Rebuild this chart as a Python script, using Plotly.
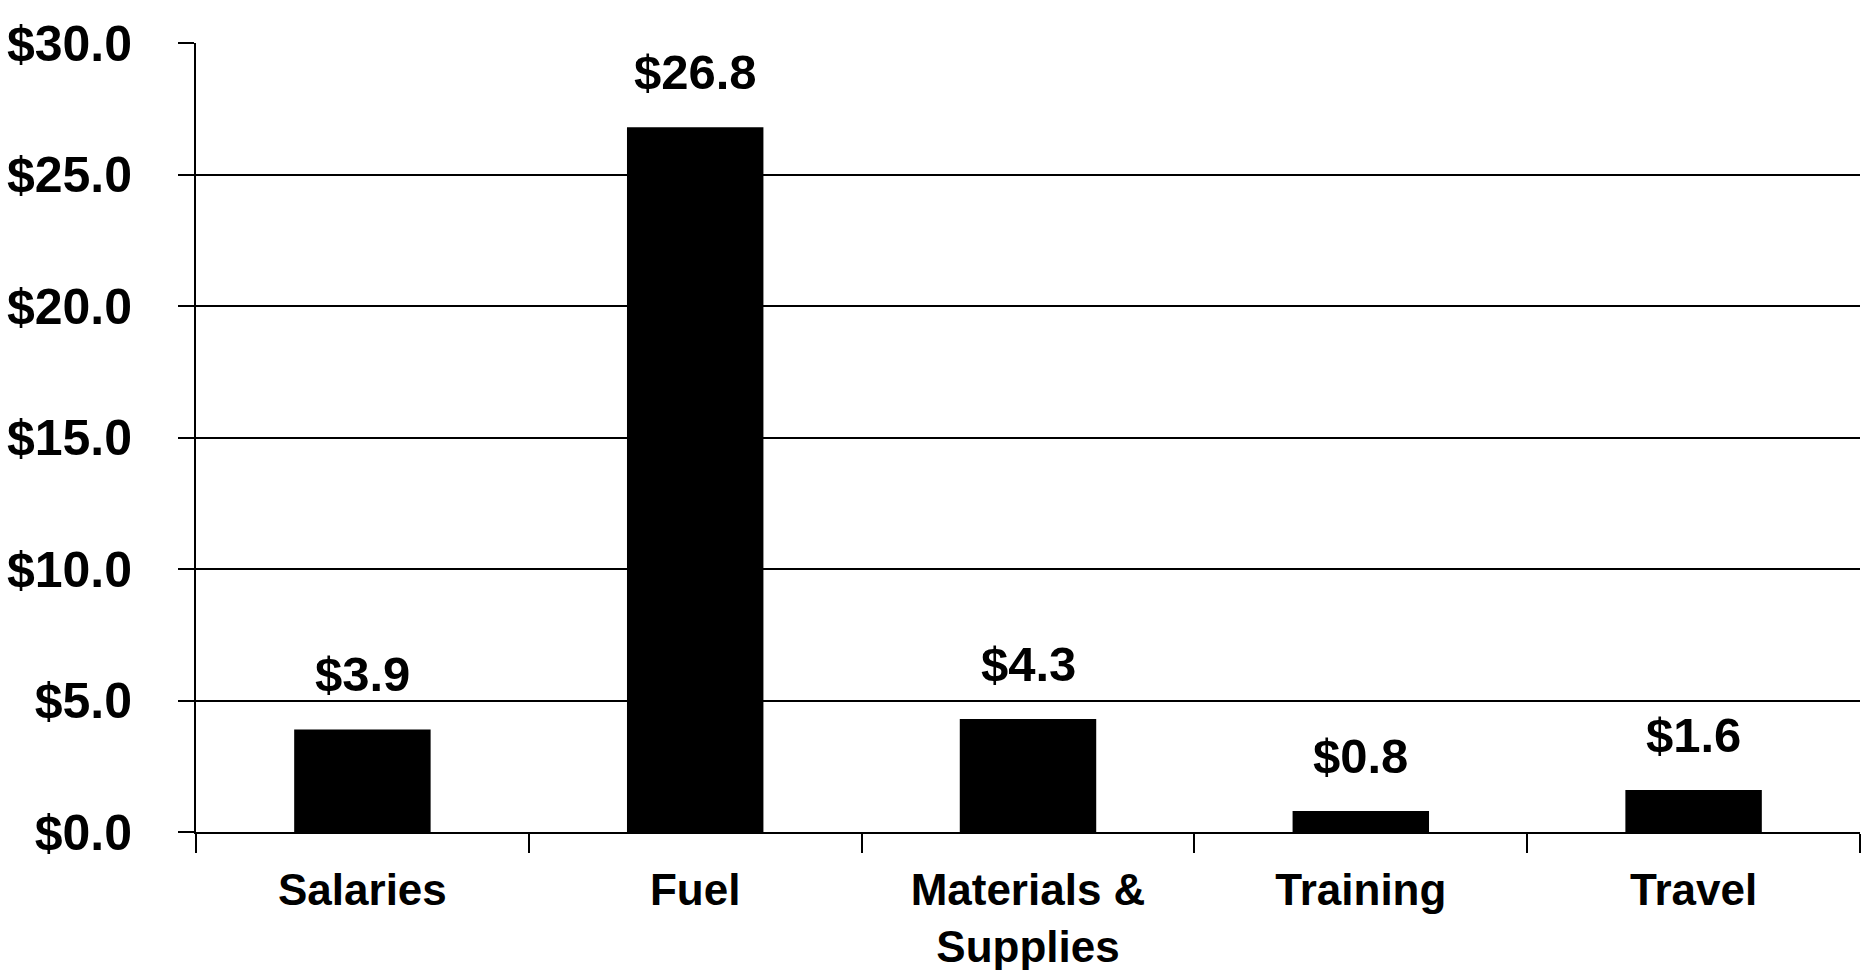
import plotly.graph_objects as go

# Spending by category, in dollars
categories = ["Salaries", "Fuel", "Materials &<br>Supplies", "Training", "Travel"]
amounts = [3.9, 26.8, 4.3, 0.8, 1.6]
y_ticks = [0, 5, 10, 15, 20, 25, 30]

FONT = "Liberation Sans, Arial, sans-serif"

fig = go.Figure()
fig.add_trace(go.Bar(
    x=categories,
    y=amounts,
    marker=dict(color="black", line=dict(width=0)),
    hoverinfo="skip",
))

# value labels above each bar
for cat, val in zip(categories, amounts):
    fig.add_annotation(
        x=cat, y=val, text=f"<b>${val:.1f}</b>",
        showarrow=False, yanchor="bottom", yshift=26,
        font=dict(family=FONT, size=49, color="black"),
    )

fig.update_layout(
    width=1867, height=970,
    margin=dict(l=196, r=7, t=43, b=138),
    paper_bgcolor="white", plot_bgcolor="white",
    showlegend=False,
    bargap=0.59,
    font=dict(family=FONT, color="black"),
)

fig.update_xaxes(
    type="category",
    automargin=False,
    showline=True, linecolor="black", linewidth=2,
    ticks="outside", tickson="boundaries", ticklen=19, tickwidth=2, tickcolor="black",
    tickfont=dict(family=FONT, size=44, color="black", weight="bold"),
    ticklabelstandoff=18,
    showgrid=False,
)

fig.update_yaxes(
    range=[0, 30],
    automargin=False,
    tickmode="array", tickvals=y_ticks,
    tickformat="$.1f",
    showline=True, linecolor="black", linewidth=2,
    ticks="outside", ticklen=16, tickwidth=2, tickcolor="black",
    tickfont=dict(family=FONT, size=50, color="black", weight="bold"),
    ticklabelstandoff=36,
    showgrid=True, gridcolor="black", gridwidth=2,
    zeroline=False,
)

fig.write_html("out.html")
